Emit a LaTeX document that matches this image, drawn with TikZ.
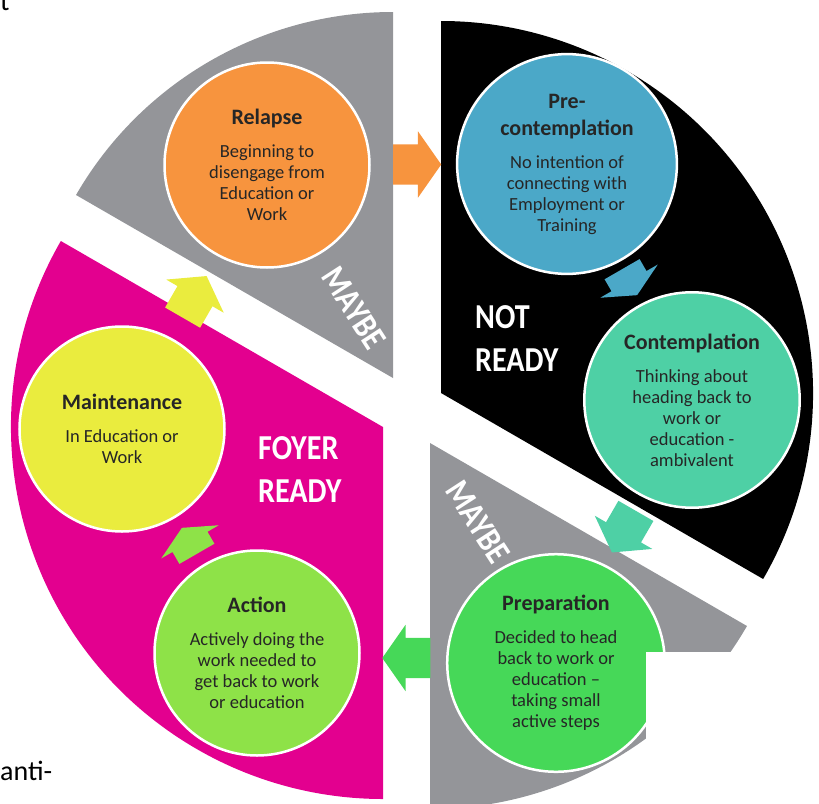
\documentclass[tikz,border=0pt]{standalone}
\usepackage{fontspec}
\setmainfont{Carlito}
\newfontfamily\labelfont[FakeStretch=0.86]{Carlito}
\usetikzlibrary{shapes.arrows,calc}

\definecolor{maybegray}{RGB}{148,149,153}
\definecolor{foyerpink}{RGB}{227,0,143}
\definecolor{relapseorange}{RGB}{247,148,62}
\definecolor{preblue}{RGB}{75,168,200}
\definecolor{contteal}{RGB}{78,208,165}
\definecolor{prepgreen}{RGB}{70,216,88}
\definecolor{actiongreen}{RGB}{142,226,72}
\definecolor{maintyellow}{RGB}{234,236,62}

\newcommand{\stagetext}[2]{\parbox{170pt}{\centering
	{\fontsize{22}{27}\selectfont\bfseries #1\par}\vspace{12pt}
	\fontsize{18.5}{21}\selectfont #2\par}}

\begin{document}
\begin{tikzpicture}[x=1pt,y=1pt,
	stage/.style={circle,draw=white,line width=2.5pt,minimum size=205pt,inner sep=0pt,text=black!85},
	crossarrow/.style={single arrow,anchor=tail,inner xsep=0pt,inner ysep=20pt,single arrow head extend=13pt,
		minimum height=48pt,single arrow tip angle=110},
	shortarrow/.style={crossarrow,minimum height=30pt,single arrow tip angle=128},
	sectorlabel/.style={text=white,inner sep=0pt,font=\labelfont\bfseries\fontsize{35}{43}\selectfont}]
	\useasboundingbox (0,0) rectangle (819,-803);
	
	% cikkek
	\fill[maybegray] (393,-378) -- ++(90:366) arc[start angle=90,end angle=150,radius=366] -- cycle;
	\fill[foyerpink] (383,-427) -- ++(150:372) arc[start angle=150,end angle=270,radius=372] -- cycle;
	\fill[black] (441,-393) -- ++(-30:372) arc[start angle=-30,end angle=90,radius=372] -- cycle;
	\fill[maybegray] (430,-443) -- ++(270:366) arc[start angle=270,end angle=330,radius=366] -- cycle;
	
	% szakaszok
	\node[stage,fill=relapseorange] (relapse) at (267,-165) {\stagetext{Relapse}{Beginning to\\disengage from\\Education or\\Work}};
	\node[stage,fill=preblue] (precon) at (567,-164) {\stagetext{Pre-\\contemplation}{No intention of\\connecting with\\Employment or\\Training}};
	\node[stage,fill=contteal] (contemp) at (692,-400) {\stagetext{Contemplation}{Thinking about\\heading back to\\work or\\education -\\ambivalent}};
	\node[stage,fill=prepgreen] (prep) at (556,-663) {\stagetext{Preparation}{Decided to head\\back to work or\\education --\\taking small\\active steps}};
	\node[stage,fill=actiongreen] (action) at (257,-653) {\stagetext{Action}{Actively doing the\\work needed to\\get back to work\\or education}};
	\node[stage,fill=maintyellow] (maint) at (122,-429) {\stagetext{Maintenance}{In Education or\\Work}};
	
	% nyilak (a tail a ket kor kozepe mogott)
	\node[crossarrow,fill=relapseorange] (a1) at ($(relapse)!0.5!(precon)+(180:24)$) {};
	\node[shortarrow,fill=preblue,rotate=-60] (a2) at ($(precon)!0.5!(contemp)+(120:15)$) {};
	\node[crossarrow,fill=contteal,rotate=-120] (a3) at ($(contemp)!0.5!(prep)+(60:24)$) {};
	\node[crossarrow,fill=prepgreen,rotate=180] (a4) at ($(prep)!0.5!(action)+(0:24)$) {};
	\node[shortarrow,fill=actiongreen,rotate=120] (a5) at ($(action)!0.5!(maint)+(-60:15)$) {};
	\node[crossarrow,fill=maintyellow,rotate=60] (a6) at ($(maint)!0.5!(relapse)+(240:24)$) {};
	
	% feliratok
	\node[sectorlabel,rotate=-57] (maybetop) at (354,-308) {MAYBE};
	\node[sectorlabel,rotate=-57] (maybebot) at (478,-522) {MAYBE};
	\node[sectorlabel,align=left,anchor=west] (notready) at (475,-339) {NOT\\READY};
	\node[sectorlabel,align=left,anchor=west] (foyer) at (258,-470) {FOYER\\READY};
	
	% takaro doboz es szovegdarabok
	\fill[white] (646,-652) rectangle (819,-803);
	\node[anchor=base west,inner sep=0pt,font=\fontsize{28}{34}\selectfont] (topt) at (0,-10) {t};
	\node[anchor=base west,inner sep=0pt,font=\fontsize{28}{34}\selectfont] (anti) at (0,-780) {anti-};
\end{tikzpicture}
\end{document}
